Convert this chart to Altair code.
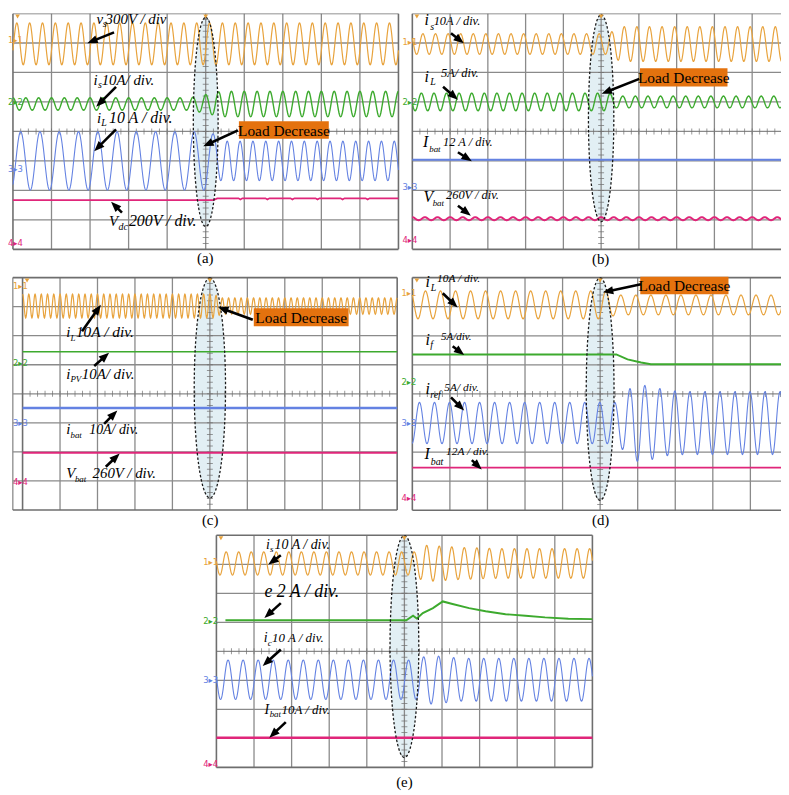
import math
import numpy as np
import pandas as pd
import altair as alt

# ---------------------------------------------------------------- layout (page pixels)
# cell = view rectangle, grid = 10 x 8 division graticule of the scope screen
PANELS = {
    "a": {"cell": (8, 8, 404, 262), "grid": (13, 8, 402, 246), "left_ext": 0.0},
    "b": {"cell": (404, 8, 788, 262), "grid": (416, 8, 797, 246), "left_ext": 0.0},
    "c": {"cell": (8, 262, 404, 524), "grid": (22.7, 272.5, 400.7, 507), "left_ext": 0.26},
    "d": {"cell": (404, 262, 788, 524), "grid": (416, 272.5, 795, 507.3), "left_ext": 0.0},
    "e": {"cell": (8, 524, 788, 787), "grid": (218.3, 531.5, 597.7, 765.7), "left_ext": 0.0},
}
CHANNELS = ["1", "2", "3", "4"]
COLORS = ["#E8A33D", "#3DAA2E", "#6482E2", "#E0267A"]

# ---------------------------------------------------------------- data (divisions)
# sinusoidal traces
SINE_PANEL = ["a", "a", "a", "b", "b", "b", "c", "d", "d", "e", "e"]
SINE_CH    = ["1", "2", "3", "1", "2", "4", "1", "1", "3", "1", "3"]
SINE_LEVEL = [2.97, 0.93, -1.00, 2.965, 1.00, -2.96, 3.02, 3.06, -1.00, 3.03, -0.98]
SINE_PEAK  = [0.10, 0.00, 0.20, 0.28, 0.24, 0.00, 0.00, 0.35, 0.19, 0.26, 0.31]
# cycles per division (breakpoints)
SINE_FREQ_X = [[0, 10], [0, 10], [0, 5.2, 5.35, 10], [0, 10], [0, 10], [0, 10], [0, 10],
               [0, 10], [0, 10], [0, 10], [0, 10]]
SINE_FREQ_F = [[3, 3], [3, 3], [2, 2, 3, 3], [3, 3], [3, 3], [3, 3], [6, 6],
               [2.5, 2.5], [2.5, 2.5], [3, 3], [2.5, 2.5]]
# amplitude envelope (breakpoints)
SINE_ENV_X = [
    [0, 10], [0, 4.6, 5.4, 10], [0, 5.15, 5.35, 10],
    [0, 5.2, 5.5, 10], [0, 5.2, 5.4, 10], [0, 10],
    [0, 5.1, 5.3, 10],
    [0, 5.2, 5.4, 10], [0, 5.45, 5.9, 6.3, 6.8, 7.3, 10],
    [0, 5.3, 5.5, 6.5, 7.5, 10], [0, 5.35, 5.6, 6.5, 10],
]
SINE_ENV_A = [
    [0.71, 0.71], [0.21, 0.21, 0.43, 0.43], [0.99, 0.99, 0.67, 0.67],
    [0.35, 0.35, 0.59, 0.59], [0.30, 0.30, 0.20, 0.20], [0.05, 0.05],
    [0.41, 0.41, 0.28, 0.28],
    [0.48, 0.48, 0.34, 0.34], [0.71, 0.71, 1.33, 1.28, 1.12, 1.08, 1.08],
    [0.40, 0.40, 0.63, 0.55, 0.51, 0.51], [0.68, 0.68, 0.85, 0.74, 0.74],
]

# piecewise (DC / slow) traces
LINE_PANEL = ["a", "b", "c", "c", "c", "d", "d", "e", "e"]
LINE_CH    = ["4", "3", "2", "3", "4", "2", "4", "2", "4"]
LINE_X = [
    [0, 5.2, 5.3, 5.85, 5.9, 5.95, 6.55, 6.6, 6.65, 7.2, 7.25, 7.3, 7.85, 7.9, 7.95, 8.5, 8.55, 8.6, 9.15, 9.2, 9.25, 10],
    [0, 10], [0, 10], [0, 10], [0, 10],
    [0, 5.43, 5.73, 6.09, 6.35, 10],
    [0, 10],
    [0.24, 5.05, 5.23, 5.33, 5.49, 5.76, 6.02, 6.28, 6.72, 7.16, 7.69, 8.22, 8.74, 9.36, 10],
    [0, 10],
]
LINE_Y = [
    [-2.33, -2.33, -2.27, -2.27, -2.31, -2.27, -2.27, -2.31, -2.27, -2.27, -2.31, -2.27, -2.27, -2.31, -2.27,
     -2.27, -2.31, -2.27, -2.27, -2.31, -2.27, -2.27],
    [-0.96, -0.96], [1.45, 1.45], [-0.49, -0.49], [-2.03, -2.03],
    [1.36, 1.36, 1.19, 1.08, 1.02, 1.02],
    [-2.53, -2.53],
    [1.07, 1.07, 1.23, 1.13, 1.32, 1.49, 1.72, 1.63, 1.49, 1.38, 1.28, 1.23, 1.17, 1.12, 1.11],
    [-2.98, -2.98],
]

# ---------------------------------------------------------------- annotations (page pixels)
LABELS = [  # panel, text, x, y(baseline), font size
    ("a", "v", 97.3, 18.3, 15), ("a", "s", 103.5, 21.5, 10), ("a", "300V / div", 106.5, 18.3, 15),
    ("a", "i", 94.3, 80, 15), ("a", "s", 98.8, 83, 10), ("a", "10A/ div.", 102.5, 80, 15),
    ("a", "i", 97.7, 118.3, 15), ("a", "L", 102, 121.5, 10), ("a", "10 A / div.", 110, 118.3, 16),
    ("a", "V", 110, 222.7, 15), ("a", "dc", 119.5, 226, 10), ("a", "200V / div.", 130, 222.7, 16),
    ("b", "i", 428.3, 20, 16), ("b", "s", 434, 24.5, 10), ("b", "10A / div.", 437.5, 20, 12.5),
    ("b", "i", 428.3, 76.7, 16), ("b", "L", 434, 80.5, 10), ("b", "5A/ div.", 445, 72, 12.5),
    ("b", "I", 426.7, 143, 16), ("b", "bat", 433, 147.5, 9), ("b", "12 A / div.", 447, 141.7, 12.5),
    ("b", "V", 427.3, 198.3, 16), ("b", "bat", 436.5, 202, 9), ("b", "260V / div.", 450, 195, 12.5),
    ("c", "i", 66.7, 332.7, 15), ("c", "L", 71, 336, 9), ("c", "10A / div.", 76.5, 332.7, 15.5),
    ("c", "i", 66.7, 375, 15), ("c", "PV", 71, 378, 9), ("c", "10A/ div.", 82.5, 375, 15),
    ("c", "i", 66.7, 430, 15), ("c", "bat", 71, 434, 9), ("c", "10A/ div.", 90, 430, 14),
    ("c", "V", 66.7, 475, 15), ("c", "bat", 75.5, 479, 9), ("c", "260V / div.", 93.3, 475, 15),
    ("d", "i", 429.3, 281.7, 16), ("d", "L", 434.5, 286, 10), ("d", "10A / div.", 441, 276.7, 11.5),
    ("d", "i", 429.3, 340, 16), ("d", "f", 434, 344, 10), ("d", "5A/div.", 445, 335, 11),
    ("d", "i", 429.3, 390, 16), ("d", "ref", 434, 394, 10), ("d", "5A/ div.", 448.3, 387.3, 11.5),
    ("d", "I", 428.3, 456, 16), ("d", "bat", 434.5, 462, 10), ("d", "12A / div.", 450, 451.7, 11.5),
    ("e", "i", 268.3, 545, 14), ("e", "s", 272.3, 548, 9), ("e", "10 A / div.", 277, 545, 14),
    ("e", "e 2 A / div.", 266.7, 593.3, 18),
    ("e", "i", 266, 639.3, 14), ("e", "c", 270, 643, 9), ("e", "10 A / div.", 274.5, 639.3, 13),
    ("e", "I", 266.7, 711.7, 14), ("e", "bat", 272, 715, 9), ("e", "10A / div.", 284, 711.7, 13),
]
ARROWS = [  # panel, tail x, tail y, head x, head y
    ("a", 115, 27, 88, 38), ("a", 117, 82, 97, 102), ("a", 117, 125, 95, 147), ("a", 123, 209, 112, 198),
    ("a", 240, 126, 205, 142),
    ("b", 455, 28, 468, 38), ("b", 447, 82, 462, 95), ("b", 462, 148, 476, 157), ("b", 462, 202, 475, 212),
    ("b", 645, 74, 607, 89),
    ("c", 82.7, 326.7, 101.7, 300), ("c", 95, 361.7, 110, 348.3), ("c", 105, 420, 118.3, 406.7),
    ("c", 106.7, 463.3, 120.7, 450), ("c", 255, 315, 220, 302.3),
    ("d", 446.7, 288.3, 461.7, 302.7), ("d", 456.7, 341.7, 468.3, 350.7), ("d", 455, 393.3, 468.3, 406.7),
    ("d", 476, 456.7, 486, 466), ("d", 646.7, 279.3, 608.3, 287.3),
    ("e", 283.3, 551.7, 270.7, 561), ("e", 283.3, 600, 266.7, 615), ("e", 283.3, 646.7, 265, 663.3),
    ("e", 288.3, 720, 271.7, 735.7),
]
BOXES = [  # panel, x0, y0, x1, y1
    ("a", 241, 116.7, 331.7, 134.3), ("b", 645.7, 63.3, 734, 81.7),
    ("c", 256, 303.3, 351.7, 321.7), ("d", 646, 271.7, 735, 289.3),
]
BOX_TEXT = "Load Decrease"
ELLIPSES = {  # panel: centre y, half width, half height
    "a": (117.5, 12.5, 105.5), "b": (113.7, 12.8, 104.4), "c": (383.8, 15.8, 111),
    "d": (385, 14, 112.3), "e": (643.8, 14.5, 112),
}
MARKERS = {  # panel: marker x, y of channels 1..4
    "a": (8, [35, 97, 165, 240]), "b": (406, [37, 97, 183, 237]), "c": (13, [281, 359, 419, 479]),
    "d": (405, [288, 378, 419, 495]), "e": (205, [558, 618, 678, 762]),
}
CAPTIONS = [("a", "(a)", 207, 255), ("b", "(b)", 606, 256), ("c", "(c)", 212, 517),
            ("d", "(d)", 606, 517), ("e", "(e)", 408, 780)]

WIDTH_DEFAULT = {"1": 1.2, "2": 1.4, "3": 1.1, "4": 1.7}
WIDTH_OVERRIDE = {("b", "3"): 2.0, ("c", "3"): 2.4, ("e", "4"): 2.4, ("c", "2"): 1.6,
                  ("d", "2"): 2.0, ("e", "2"): 2.0, ("b", "4"): 2.0, ("c", "4"): 2.0}


def geom(p):
    gx0, gy0, gx1, gy1 = PANELS[p]["grid"]
    return gx0, gy0, (gx1 - gx0) / 10.0, (gy1 - gy0) / 8.0


def px2x(p, px):
    gx0, gy0, sx, sy = geom(p)
    return (px - gx0) / sx


def px2y(p, py):
    gx0, gy0, sx, sy = geom(p)
    return 4 - (py - gy0) / sy


XS = np.linspace(0, 10, 1201)


def traces(p):
    rows = []
    for i, pp in enumerate(SINE_PANEL):
        if pp != p:
            continue
        ch = SINE_CH[i]
        amp = np.interp(XS, SINE_ENV_X[i], SINE_ENV_A[i])
        f = np.interp(XS, SINE_FREQ_X[i], SINE_FREQ_F[i])
        ph = np.concatenate([[0.0], np.cumsum(0.5 * (f[1:] + f[:-1]) * np.diff(XS))])
        ph0 = np.interp(SINE_PEAK[i], XS, ph)
        y = SINE_LEVEL[i] + amp * np.cos(2 * np.pi * (ph - ph0))
        sw = WIDTH_OVERRIDE.get((p, ch), WIDTH_DEFAULT[ch])
        for xv, yv in zip(XS, y):
            rows.append({"x": round(float(xv), 4), "y": round(float(yv), 4), "ch": ch, "sid": f"s{i}", "sw": sw})
    for i, pp in enumerate(LINE_PANEL):
        if pp != p:
            continue
        ch = LINE_CH[i]
        sw = WIDTH_OVERRIDE.get((p, ch), WIDTH_DEFAULT[ch])
        for xv, yv in zip(LINE_X[i], LINE_Y[i]):
            rows.append({"x": xv, "y": yv, "ch": ch, "sid": f"l{i}", "sw": sw})
    return pd.DataFrame(rows)


def panel(p):
    P = PANELS[p]
    cx0, cy0, cx1, cy1 = P["cell"]
    W, H = cx1 - cx0, cy1 - cy0
    xsc = alt.Scale(domain=[px2x(p, cx0), px2x(p, cx1)], nice=False, zero=False)
    ysc = alt.Scale(domain=[px2y(p, cy1), px2y(p, cy0)], nice=False, zero=False)
    X = alt.X("x:Q", scale=xsc, axis=None)
    Y = alt.Y("y:Q", scale=ysc, axis=None)
    col = alt.Color("ch:N", scale=alt.Scale(domain=CHANNELS, range=COLORS), legend=None)
    gx0, gy0, sx, sy = geom(p)
    layers = []

    # ellipse fill
    ecy, ehw, ehh = ELLIPSES[p]
    a = ehw / ehh
    epath = f"M0,-1 A{a:.4f},1 0 1,1 0,1 A{a:.4f},1 0 1,1 0,-1 Z"
    edf = pd.DataFrame({"x": [5.0], "y": [px2y(p, ecy)]})
    layers.append(alt.Chart(edf).mark_point(shape=epath, size=4 * ehh * ehh, filled=True,
                                            fill="#D6E8EF", opacity=0.7, strokeWidth=0).encode(x=X, y=Y))

    # graticule
    le = P["left_ext"]
    grid, border = [], []
    for i in range(11):
        (border if i in (0, 10) else grid).append({"x": i, "y": -4, "x2": i, "y2": 4})
    for j in range(-4, 5):
        (border if j in (-4, 4) else grid).append({"x": -le, "y": j, "x2": 10, "y2": j})
    if le > 0:
        grid.append({"x": -le, "y": -4, "x2": -le, "y2": 4})
    layers.append(alt.Chart(pd.DataFrame(grid)).mark_rule(color="#8a8a8a", strokeWidth=1.3, clip=True)
                  .encode(x=X, y=Y, x2="x2:Q", y2="y2:Q"))
    layers.append(alt.Chart(pd.DataFrame(border)).mark_rule(color="#6e6e6e", strokeWidth=1.6, clip=True)
                  .encode(x=X, y=Y, x2="x2:Q", y2="y2:Q"))
    # minor ticks on the centre axes
    tv = pd.DataFrame({"x": 5.0, "y": np.round(np.arange(-3.8, 3.801, 0.2), 3)})
    th = pd.DataFrame({"x": np.round(np.arange(0.2, 9.801, 0.2), 3), "y": 0.0})
    layers.append(alt.Chart(tv).mark_tick(orient="horizontal", size=6, thickness=1, color="#6e6e6e",
                                          clip=True).encode(x=X, y=Y))
    layers.append(alt.Chart(th).mark_tick(orient="vertical", size=6, thickness=1, color="#6e6e6e",
                                          clip=True).encode(x=X, y=Y))

    # waveforms
    layers.append(alt.Chart(traces(p)).mark_line(clip=True).encode(
        x=X, y=Y, color=col, detail="sid:N", strokeWidth=alt.StrokeWidth("sw:Q", scale=None)))

    # ellipse outline
    layers.append(alt.Chart(edf).mark_point(shape=epath, size=4 * ehh * ehh, filled=False,
                                            stroke="#1a1a1a", strokeWidth=1.3, strokeDash=[2.5, 2],
                                            opacity=1).encode(x=X, y=Y))

    # trigger markers (just inside the top edge)
    trg = pd.DataFrame({"x": [0.12, 5.0], "y": [px2y(p, gy0 + 3)] * 2})
    layers.append(alt.Chart(trg).mark_point(shape="triangle-down", size=22, filled=True,
                                            color="#E8A33D", opacity=1).encode(x=X, y=Y))

    # Load Decrease box
    bx = [b for b in BOXES if b[0] == p]
    if bx:
        _, x0, y0, x1, y1 = bx[0]
        bdf = pd.DataFrame({"x": [px2x(p, x0)], "x2": [px2x(p, x1)], "y": [px2y(p, y1)], "y2": [px2y(p, y0)],
                            "xm": [px2x(p, (x0 + x1) / 2)], "ym": [px2y(p, (y0 + y1) / 2)], "t": [BOX_TEXT]})
        layers.append(alt.Chart(bdf).mark_rect(color="#E4720E").encode(x=X, x2="x2:Q", y=Y, y2="y2:Q"))
        layers.append(alt.Chart(bdf).mark_text(font="Liberation Serif", fontSize=15.5, color="black",
                                               align="center", baseline="middle", dy=1).encode(
            x=alt.X("xm:Q", scale=xsc, axis=None), y=alt.Y("ym:Q", scale=ysc, axis=None), text="t:N"))

    # arrows
    shafts, heads = [], []
    for (pp, tx, ty, hx, hy) in ARROWS:
        if pp != p:
            continue
        dx, dy = hx - tx, hy - ty
        L = math.hypot(dx, dy)
        ux, uy = dx / L, dy / L
        r = 5.5
        cxp, cyp = hx - ux * r, hy - uy * r
        shafts.append({"x": px2x(p, tx), "y": px2y(p, ty), "x2": px2x(p, cxp), "y2": px2y(p, cyp)})
        ang = math.degrees(math.atan2(dx, -dy)) % 360
        heads.append({"x": px2x(p, cxp), "y": px2y(p, cyp), "ang": ang})
    layers.append(alt.Chart(pd.DataFrame(shafts)).mark_rule(color="black", strokeWidth=2.6)
                  .encode(x=X, y=Y, x2="x2:Q", y2="y2:Q"))
    layers.append(alt.Chart(pd.DataFrame(heads)).mark_point(shape="M0,-1 L0.75,0.9 L-0.75,0.9 Z",
                                                            size=4 * 5.5 * 5.5, filled=True, color="black",
                                                            opacity=1, strokeWidth=0)
                  .encode(x=X, y=Y, angle=alt.Angle("ang:Q", scale=None)))

    # italic labels
    ldf = pd.DataFrame([{"x": px2x(p, x), "y": px2y(p, y), "t": t, "fs": fs}
                        for (pp, t, x, y, fs) in LABELS if pp == p])
    layers.append(alt.Chart(ldf).mark_text(font="Liberation Serif", fontStyle="italic", align="left",
                                           baseline="alphabetic", color="black").encode(
        x=X, y=Y, text="t:N", size=alt.Size("fs:Q", scale=None)))

    # channel markers
    mx, mys = MARKERS[p]
    mdf = pd.DataFrame({"x": [px2x(p, mx)] * 4, "y": [px2y(p, v) for v in mys], "ch": CHANNELS,
                        "t": [f"{c}\u25b8{c}" for c in CHANNELS]})
    layers.append(alt.Chart(mdf).mark_text(font="DejaVu Sans", fontSize=8.5, align="left",
                                           baseline="middle").encode(x=X, y=Y, text="t:N", color=col))

    # caption
    cdf = pd.DataFrame([{"x": px2x(p, x), "y": px2y(p, y), "t": t} for (pp, t, x, y) in CAPTIONS if pp == p])
    layers.append(alt.Chart(cdf).mark_text(font="Liberation Serif", fontSize=15, align="center",
                                           baseline="middle", color="black").encode(x=X, y=Y, text="t:N"))

    return alt.layer(*layers).properties(width=W, height=H)


row1 = alt.hconcat(panel("a"), panel("b"), spacing=0, bounds="flush")
row2 = alt.hconcat(panel("c"), panel("d"), spacing=0, bounds="flush")
chart = alt.vconcat(row1, row2, panel("e"), spacing=0, padding=0,
                    background="white").configure_view(stroke=None)

chart.save("out.html", embed_options={"renderer": "svg", "actions": False})
